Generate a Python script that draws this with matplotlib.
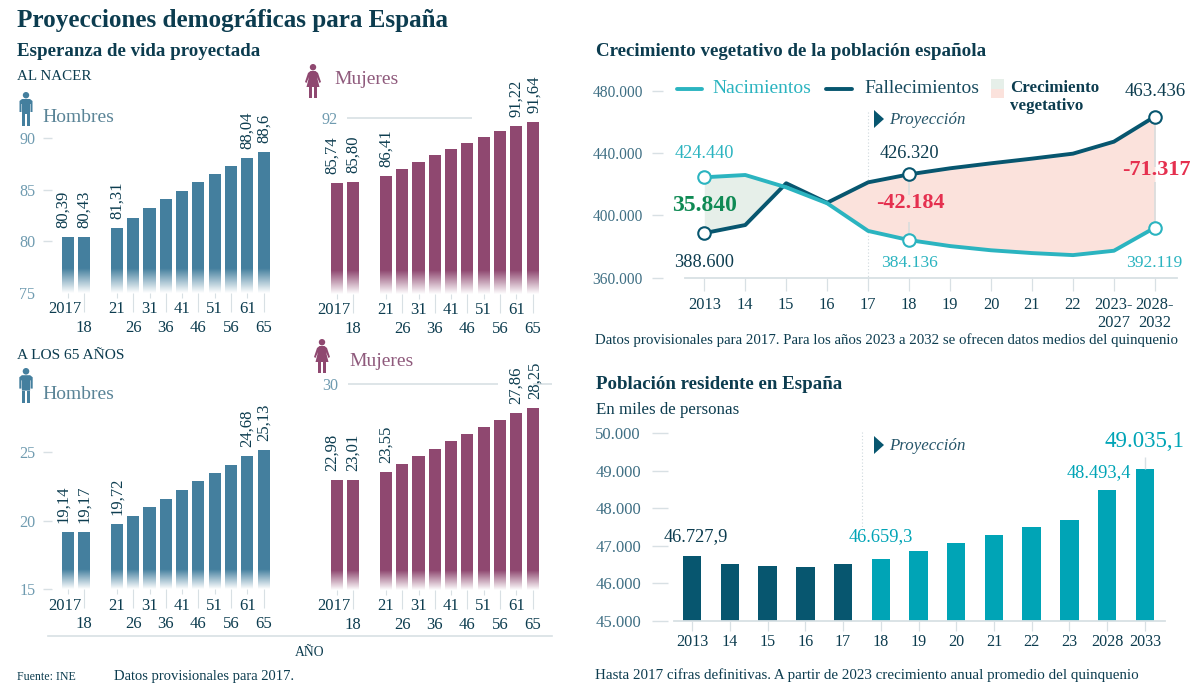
import numpy as np
import matplotlib
matplotlib.use("Agg")
import matplotlib.pyplot as plt
from matplotlib.patches import Circle, Polygon, Rectangle
from matplotlib.transforms import ScaledTranslation

W, H, DPI = 1200, 686, 100

plt.rcParams["font.family"] = ["Liberation Serif", "DejaVu Serif"]

# Esperanza de vida
YEAR_POS = [0, 1, 3, 4, 5, 6, 7, 8, 9, 10, 11, 12]
UPPER_LABELS = ["2017", "21", "31", "41", "51", "61"]
UPPER_POS = [0, 3, 5, 7, 9, 11]
LOWER_LABELS = ["18", "26", "36", "46", "56", "65"]
LOWER_POS = [1, 4, 6, 8, 10, 12]

men_birth = [80.39, 80.43, 81.31, 82.26, 83.2, 84.07, 84.9, 85.75, 86.5, 87.3, 88.04, 88.6]
women_birth = [85.74, 85.80, 86.41, 87.08, 87.75, 88.37, 88.98, 89.6, 90.14, 90.7, 91.22, 91.64]
men_65 = [19.14, 19.17, 19.72, 20.34, 20.97, 21.6, 22.23, 22.86, 23.47, 24.05, 24.68, 25.13]
women_65 = [22.98, 23.01, 23.55, 24.14, 24.72, 25.27, 25.81, 26.36, 26.87, 27.37, 27.86, 28.25]

# Crecimiento vegetativo
veg_labels = ["2013", "14", "15", "16", "17", "18", "19", "20", "21", "22", "2023-\n2027", "2028-\n2032"]
births = [424440, 425900, 418000, 407750, 390000, 384136, 380300, 377600, 375800, 374500, 377300, 392119]
deaths = [388600, 393800, 420600, 408100, 421200, 426320, 430200, 433400, 436400, 439600, 447300, 463436]

# Poblacion residente
pop_labels = ["2013", "14", "15", "16", "17", "18", "19", "20", "21", "22", "23", "2028", "2033"]
population = [46727.9, 46510, 46457, 46440, 46527, 46659.3, 46865, 47078, 47282, 47487, 47682, 48493.4, 49035.1]

DARK = "#0c3c4f"
TICK_BLUE = "#6f9bb0"
GRID = "#d8e0e4"
MEN = "#447f9e"
WOMEN = "#8f4870"
MEN_TXT = "#5a8497"
WOMEN_TXT = "#8f5a7c"
TEAL = "#2bb4c0"
NAVY = "#07566f"
BAR_TEAL = "#00a4b6"
GREEN_FILL = "#e6efe9"
PINK_FILL = "#fbe2dc"
GREEN_TXT = "#0f8a54"
RED_TXT = "#e5304f"


def px_axes(fig, left, right, top, bottom):
    """Axes placed by image pixels (y measured from the top)."""
    ax = fig.add_axes([left / W, 1 - bottom / H, (right - left) / W, (bottom - top) / H])
    ax.patch.set_alpha(0)
    for s in ax.spines.values():
        s.set_visible(False)
    return ax


def person(bg, cx, top, h, color, woman=False):
    u = h / 34.0
    bg.add_patch(Circle((cx, top + 3.2 * u), 3.2 * u, color=color, lw=0))
    if woman:
        body = [(-2.5, 7), (2.5, 7), (5, 9), (8, 18), (6.5, 19), (4, 13), (6.5, 23), (-6.5, 23),
                (-4, 13), (-6.5, 19), (-8, 18), (-5, 9)]
    else:
        body = [(-4, 7), (4, 7), (6.5, 9), (6.5, 20), (4.5, 20), (4.5, 12), (4, 12), (4, 22), (-4, 22),
                (-4, 12), (-4.5, 12), (-4.5, 20), (-6.5, 20), (-6.5, 9)]
    bg.add_patch(Polygon([(cx + x * u, top + y * u) for x, y in body], color=color, lw=0))
    for dx in (-3.7, 0.6):
        bg.add_patch(Rectangle((cx + dx * u, top + 22 * u), 3.1 * u, 12 * u, color=color, lw=0))


def life_panel(fig, x0, top, bottom, ylim, values, color, yticks, fade_px, offs, woman_grid=None):
    step = 16.3
    ax = px_axes(fig, x0 - 0.98 * step, x0 + 12.7 * step, top, bottom)
    ax.bar(YEAR_POS, values, width=0.74, color=color, zorder=2)
    ax.set_xlim(-0.98, 12.7)
    ax.set_ylim(*ylim)

    # fade at the foot of the bars
    fade = np.ones((64, 2, 4))
    fade[:, :, 3] = np.linspace(0, 1, 64)[:, None]
    span = (ylim[1] - ylim[0]) * fade_px / (bottom - top)
    ax.imshow(fade, extent=[-0.98, 12.7, ylim[0], ylim[0] + span], origin="upper",
              aspect="auto", zorder=3)
    ax.set_xlim(-0.98, 12.7)
    ax.set_ylim(*ylim)

    ax.set_xticks(UPPER_POS, UPPER_LABELS)
    ax.set_xticks(LOWER_POS, LOWER_LABELS, minor=True)
    ax.tick_params(axis="x", which="major", length=3.6, width=0.8, color=GRID, pad=2.4,
                   labelsize=12, labelcolor=DARK)
    ax.tick_params(axis="x", which="minor", length=14, width=0.8, color=GRID, pad=5.4,
                   labelsize=12, labelcolor=DARK)
    lab = ax.get_xticklabels()[0]
    lab.set_transform(lab.get_transform() + ScaledTranslation(-3 / DPI, 0, fig.dpi_scale_trans))

    ax.set_yticks(yticks)
    if woman_grid is None:
        ax.tick_params(axis="y", length=6.5, width=1, color=GRID, pad=5.5,
                       labelsize=11.6, labelcolor=TICK_BLUE)
        ax.get_yticklines()[0].set_visible(yticks[0] == 15)
    else:
        ax.tick_params(axis="y", length=0, pad=-12, labelsize=11.6, labelcolor=TICK_BLUE)
        for a, b in woman_grid:
            ax.hlines(yticks[-1], a, b, color=GRID, lw=1.2, clip_on=False)

    for i, dx in offs.items():
        ax.annotate(f"{values[i]:.2f}".replace(".", ",").replace("88,60", "88,6"),
                    (YEAR_POS[i], values[i]), xytext=(dx, 9), textcoords="offset pixels",
                    rotation=90, ha="center", va="bottom", fontsize=12, color=DARK,
                    rotation_mode="default", zorder=5)
    return ax


fig = plt.figure(figsize=(W / DPI, H / DPI), dpi=DPI, facecolor="white")

bg = fig.add_axes([0, 0, 1, 1])
bg.set_xlim(0, W)
bg.set_ylim(H, 0)
bg.axis("off")


def label(x, y, s, size, color=DARK, weight="normal", ha="left", style="normal"):
    bg.text(x, y + 1.5, s, fontsize=size, color=color, fontweight=weight, ha=ha, va="center", fontstyle=style)


# headings
label(17, 19, "Proyecciones demográficas para España", 18.1, weight="bold")
label(17, 50, "Esperanza de vida proyectada", 13.6, weight="bold")
label(596, 50, "Crecimiento vegetativo de la población española", 13.7, weight="bold")
label(596, 383, "Población residente en España", 13.6, weight="bold")
label(596, 408, "En miles de personas", 12.2)
label(17, 75, "AL NACER", 10.8)
label(17, 354, "A LOS 65 AÑOS", 11.1)
label(42, 116, "Hombres", 14, MEN_TXT)
label(42, 393, "Hombres", 14, MEN_TXT)
label(334, 78, "Mujeres", 14, WOMEN_TXT)
label(349, 360, "Mujeres", 14, WOMEN_TXT)
person(bg, 26, 92, 34, MEN)
person(bg, 26, 368, 35, MEN)
person(bg, 313, 64, 34, WOMEN, woman=True)
person(bg, 322, 339, 34, WOMEN, woman=True)

label(595, 339, "Datos provisionales para 2017. Para los años 2023 a 2032 se ofrecen datos medios del quinquenio", 10.75)
label(595, 674, "Hasta 2017 cifras definitivas. A partir de 2023 crecimiento anual promedio del quinquenio", 10.85)
label(17, 675, "Fuente: INE", 8.6)
label(114, 675, "Datos provisionales para 2017.", 10.5)
label(310, 651, "AÑO", 9.8, ha="center")
bg.plot([48, 552], [636, 636], color=GRID, lw=1.2)

# legend of the vegetative chart
bg.plot([677, 702], [89, 89], color=TEAL, lw=2.8, solid_capstyle="round")
label(712, 87, "Nacimientos", 14, TEAL)
bg.plot([826, 852], [89, 89], color=NAVY, lw=2.8, solid_capstyle="round")
label(864, 87, "Fallecimientos", 14, "#174a5e")
bg.add_patch(Rectangle((990.5, 79), 13, 9.5, color=GREEN_FILL, lw=0))
bg.add_patch(Rectangle((990.5, 88.5), 13, 9.5, color=PINK_FILL, lw=0))
label(1010, 86, "Crecimiento", 12.2, weight="bold")
label(1010, 104, "vegetativo", 12.2, weight="bold")

# proyeccion marks
for tx, ty, lx in ((874, 119, 889), (874, 445, 889)):
    bg.add_patch(Polygon([(tx, ty - 9), (tx + 10, ty), (tx, ty + 9)], color=NAVY, lw=0))
    label(lx, ty - 1, "Proyección", 12.2, "#27566a", style="italic")
bg.plot([868, 868], [112, 278], color="#cfd9dd", lw=0.8, ls=(0, (1, 2)))
bg.plot([862, 862], [432, 535], color="#cfd9dd", lw=0.8, ls=(0, (1, 2)))

# life expectancy panels
life_panel(fig, 68, 138, 293, (75, 90), men_birth, MEN, [75, 80, 85, 90], 24,
           {0: -5, 1: 0, 2: 0, 10: 0, 11: 0})
life_panel(fig, 337, 117.8, 293.6, (75, 92), women_birth, WOMEN, [92], 24,
           {0: -5, 1: 0, 2: 0, 10: 0, 11: 2}, woman_grid=[(0.6, 8.3)])
life_panel(fig, 68, 438, 589.3, (15, 26), men_65, MEN, [15, 20, 25], 20,
           {0: -5, 1: 0, 2: 0, 10: 0, 11: 0})
life_panel(fig, 337, 383.5, 590, (15, 30), women_65, WOMEN, [30], 20,
           {0: -5, 1: 0, 2: 0, 10: 0, 11: 2}, woman_grid=[(0.7, 9.9), (12.0, 13.2)])

# vegetative growth
ax = px_axes(fig, 663, 1177, 90.7, 277.7)
xs = np.arange(len(births))
b = np.array(births)
d = np.array(deaths)
ax.fill_between(xs, b, d, where=b >= d, interpolate=True, color=GREEN_FILL, lw=0, zorder=1)
ax.fill_between(xs, b, d, where=b <= d, interpolate=True, color=PINK_FILL, lw=0, zorder=1)
for i, cuts in ((5, [(deaths[5], 413000), (396000, births[5])]),
                (11, [(deaths[11], 431000), (421500, births[11])])):
    for y0, y1 in cuts:
        ax.vlines(i, y0, y1, color="#d9dcdc", lw=1.2, zorder=1.5)
ax.plot(xs, d, color=NAVY, lw=2.8, zorder=3, solid_joinstyle="round")
ax.plot(xs, b, color=TEAL, lw=2.8, zorder=4, solid_joinstyle="round")
for i in (0, 5, 11):
    ax.plot(i, deaths[i], "o", ms=9, mfc="white", mec=NAVY, mew=1.5, zorder=5)
    ax.plot(i, births[i], "o", ms=9, mfc="white", mec=TEAL, mew=1.5, zorder=5)
ax.set_xlim(-1.008, 11.54)
ax.set_ylim(360000, 480000)
ax.set_yticks([360000, 400000, 440000, 480000], ["360.000", "400.000", "440.000", "480.000"])
ax.tick_params(axis="y", length=8, width=1, color=GRID, pad=6.5, labelsize=11.2, labelcolor="#3f6f84")
ax.set_xticks(xs, veg_labels)
ax.tick_params(axis="x", length=9.5, width=0.9, color=GRID, pad=4.5, labelsize=11.8, labelcolor=DARK)
ax.spines["bottom"].set_visible(True)
ax.spines["bottom"].set_color(GRID)
ax.spines["bottom"].set_linewidth(1.3)
ax.spines["bottom"].set_bounds(-0.47, 11.54)
for lbl in ax.get_xticklabels():
    lbl.set_linespacing(1.15)


def note(axis, x, y, s, dy, color, size, weight="normal", dx=0):
    axis.annotate(s, (x, y), xytext=(dx, dy), textcoords="offset pixels", ha="center", va="center",
                  color=color, fontsize=size, fontweight=weight, zorder=6)


note(ax, 0, births[0], "424.440", 24, TEAL, 13.2)
note(ax, 0, deaths[0], "388.600", -29, DARK, 13.2)
note(ax, 5, deaths[5], "426.320", 21, DARK, 13.2)
note(ax, 5, births[5], "384.136", -23, TEAL, 12.6)
note(ax, 11, deaths[11], "463.436", 25, DARK, 13.6)
note(ax, 11, births[11], "392.119", -35, TEAL, 12.6, dx=-1)
note(ax, 0, (births[0] + deaths[0]) / 2, "35.840", 0, GREEN_TXT, 17, "bold")
note(ax, 5, (births[5] + deaths[5]) / 2, "-42.184", 4, RED_TXT, 16, "bold", dx=1)
note(ax, 11, (births[11] + deaths[11]) / 2, "-71.317", 2, RED_TXT, 16, "bold", dx=1)

# resident population
ax = px_axes(fig, 668, 1165, 433, 621)
xs = np.arange(len(population))
bar_colors = [NAVY] * 5 + [BAR_TEAL] * 8
ax.bar(xs, population, width=0.49, color=bar_colors, zorder=2)
ax.set_xlim(-0.636, 12.53)
ax.set_ylim(45000, 50000)
ax.set_yticks([45000, 46000, 47000, 48000, 49000, 50000],
              ["45.000", "46.000", "47.000", "48.000", "49.000", "50.000"])
ax.tick_params(axis="y", length=11.5, width=1, color=GRID, pad=8, labelsize=12, labelcolor="#3f6f84")
ax.set_xticks(xs, pop_labels)
ax.tick_params(axis="x", length=7, width=0.9, color=GRID, pad=2, labelsize=11.6, labelcolor=DARK)
ax.spines["bottom"].set_visible(True)
ax.spines["bottom"].set_color(GRID)
ax.spines["bottom"].set_linewidth(1.3)
ax.spines["bottom"].set_bounds(-0.48, 12.53)
ax.vlines(12, population[12], 49350, color=GRID, lw=1, clip_on=False)
note(ax, 0, population[0], "46.727,9", 19, DARK, 13.2, dx=4)
note(ax, 5, population[5], "46.659,3", 22, BAR_TEAL, 13.2, dx=0)
note(ax, 11, population[11], "48.493,4", 17, BAR_TEAL, 13.2, dx=-8)
note(ax, 12, population[12], "49.035,1", 28, BAR_TEAL, 16.5, dx=-1)

fig.savefig("out.png", dpi=DPI)
